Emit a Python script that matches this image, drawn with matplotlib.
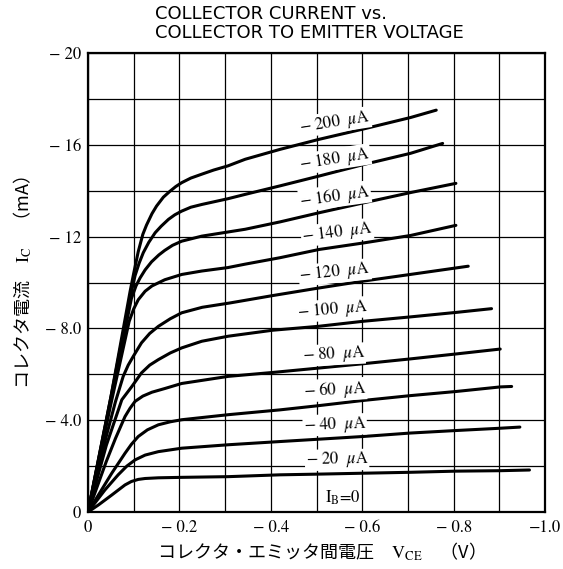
import matplotlib
matplotlib.use("Agg")
import matplotlib.pyplot as plt

plt.rcParams["font.family"] = ["Noto Sans CJK JP", "DejaVu Sans"]
plt.rcParams["mathtext.fontset"] = "stix"

# PNP transistor: values are magnitudes of -VCE (V) and -IC (mA)
vce_20 = [0, 0.023, 0.052, 0.081, 0.095, 0.110, 0.125, 0.154, 0.205, 0.307, 0.420, 0.503, 0.602, 0.705, 0.805, 0.902, 0.966]
ic_20 = [0, 0.31, 0.74, 1.18, 1.33, 1.42, 1.46, 1.49, 1.51, 1.54, 1.62, 1.65, 1.69, 1.73, 1.78, 1.80, 1.83]

vce_40 = [0, 0.037, 0.066, 0.085, 0.103, 0.125, 0.154, 0.205, 0.307, 0.420, 0.503, 0.602, 0.705, 0.805, 0.902, 0.945]
ic_40 = [0, 0.96, 1.62, 2.00, 2.27, 2.48, 2.63, 2.78, 2.93, 3.07, 3.17, 3.29, 3.44, 3.55, 3.65, 3.70]

vce_60 = [0, 0.052, 0.081, 0.095, 0.110, 0.130, 0.154, 0.180, 0.205, 0.307, 0.420, 0.503, 0.602, 0.705, 0.805, 0.902, 0.927]
ic_60 = [0, 1.69, 2.56, 2.95, 3.29, 3.58, 3.80, 3.93, 4.02, 4.24, 4.45, 4.63, 4.86, 5.07, 5.25, 5.45, 5.47]

vce_80 = [0, 0.040, 0.060, 0.081, 0.092, 0.103, 0.120, 0.140, 0.168, 0.205, 0.307, 0.404, 0.504, 0.602, 0.705, 0.807, 0.902]
ic_80 = [0, 2.20, 3.20, 4.16, 4.52, 4.82, 5.05, 5.22, 5.38, 5.60, 5.91, 6.08, 6.27, 6.46, 6.67, 6.89, 7.10]

vce_100 = [0, 0.040, 0.074, 0.096, 0.117, 0.135, 0.154, 0.180, 0.205, 0.249, 0.307, 0.404, 0.504, 0.602, 0.705, 0.807, 0.883]
ic_100 = [0, 2.90, 4.89, 5.47, 6.06, 6.40, 6.64, 6.93, 7.15, 7.44, 7.66, 7.92, 8.09, 8.31, 8.50, 8.70, 8.86]

vce_120 = [0, 0.040, 0.060, 0.077, 0.088, 0.099, 0.117, 0.135, 0.154, 0.180, 0.205, 0.250, 0.311, 0.404, 0.502, 0.602, 0.705, 0.832]
ic_120 = [0, 3.30, 4.80, 5.91, 6.40, 6.78, 7.37, 7.78, 8.09, 8.42, 8.68, 8.92, 9.11, 9.43, 9.75, 10.06, 10.35, 10.71]

vce_140 = [0, 0.050, 0.090, 0.100, 0.110, 0.125, 0.140, 0.168, 0.205, 0.249, 0.306, 0.344, 0.420, 0.506, 0.605, 0.706, 0.805]
ic_140 = [0, 4.70, 8.30, 8.85, 9.25, 9.62, 9.85, 10.12, 10.35, 10.50, 10.65, 10.80, 11.08, 11.44, 11.73, 12.05, 12.49]

vce_160 = [0, 0.050, 0.095, 0.105, 0.114, 0.125, 0.139, 0.155, 0.168, 0.185, 0.205, 0.249, 0.306, 0.344, 0.420, 0.506, 0.605, 0.706, 0.805]
ic_160 = [0, 4.90, 9.30, 9.85, 10.20, 10.55, 10.90, 11.20, 11.40, 11.62, 11.80, 12.02, 12.20, 12.32, 12.64, 13.04, 13.48, 13.92, 14.32]

vce_180 = [0, 0.050, 0.095, 0.103, 0.112, 0.121, 0.133, 0.147, 0.160, 0.176, 0.190, 0.205, 0.225, 0.249, 0.306, 0.344, 0.420, 0.506, 0.605, 0.706, 0.776]
ic_180 = [0, 5.00, 9.60, 10.30, 10.85, 11.30, 11.75, 12.17, 12.45, 12.75, 12.95, 13.11, 13.28, 13.40, 13.65, 13.84, 14.21, 14.64, 15.15, 15.63, 16.06]

vce_200 = [0, 0.050, 0.092, 0.100, 0.110, 0.120, 0.128, 0.140, 0.150, 0.165, 0.179, 0.192, 0.205, 0.225, 0.249, 0.275, 0.306, 0.344, 0.420, 0.506, 0.605, 0.706, 0.762]
ic_200 = [0, 5.00, 9.60, 10.40, 11.35, 12.10, 12.50, 13.00, 13.33, 13.72, 13.97, 14.18, 14.35, 14.55, 14.72, 14.90, 15.08, 15.37, 15.80, 16.24, 16.70, 17.19, 17.51]

curves = [(vce_20, ic_20), (vce_40, ic_40), (vce_60, ic_60), (vce_80, ic_80),
          (vce_100, ic_100), (vce_120, ic_120), (vce_140, ic_140),
          (vce_160, ic_160), (vce_180, ic_180), (vce_200, ic_200)]

# curve labels and where they sit
label_texts = ["$-$ 20  $\\mu$A", "$-$ 40  $\\mu$A", "$-$ 60  $\\mu$A", "$-$ 80  $\\mu$A",
               "$-$ 100  $\\mu$A", "$-$ 120  $\\mu$A", "$-$ 140  $\\mu$A",
               "$-$ 160  $\\mu$A", "$-$ 180  $\\mu$A", "$-$ 200  $\\mu$A"]
label_x = [0.545, 0.540, 0.540, 0.537, 0.536, 0.540, 0.545, 0.540, 0.540, 0.540]
label_y = [2.27, 3.80, 5.33, 6.86, 8.82, 10.44, 12.18, 13.76, 15.37, 16.99]
label_rot = [1, 2, 3, 3, 5, 6, 7, 8, 9, 9]

x_ticks = [0, 0.2, 0.4, 0.6, 0.8, 1.0]
x_ticklabels = ["0", "\u2212 0.2", "\u2212 0.4", "\u2212 0.6", "\u2212 0.8", "\u22121.0"]
y_ticks = [0, 4, 8, 12, 16, 20]
y_ticklabels = ["0", "\u2212 4.0", "\u2212 8.0", "\u2212 12", "\u2212 16", "\u2212 20"]

fig = plt.figure(figsize=(5.63, 5.69), dpi=100)
ax = fig.add_axes([88 / 563, 57 / 569, 457 / 563, 459 / 569])

for v, i in curves:
    ax.plot(v, i, color="black", lw=2.2, solid_capstyle="round", solid_joinstyle="round", zorder=3)

for t, x, y, r in zip(label_texts, label_x, label_y, label_rot):
    ax.text(x, y, t, ha="center", va="center", rotation=r, fontsize=12,
            family="STIXGeneral", zorder=4,
            bbox=dict(facecolor="white", edgecolor="none", pad=0.5))
ax.text(0.558, 0.61, "$\\mathrm{I_B}$=0", ha="center", va="center", fontsize=12,
        family="STIXGeneral", zorder=4,
        bbox=dict(facecolor="white", edgecolor="none", pad=0.5))

ax.set_xlim(0, 1.0)
ax.set_ylim(0, 20)
ax.set_xticks(x_ticks)
ax.set_xticklabels(x_ticklabels, family="STIXGeneral", fontsize=12)
ax.set_yticks(y_ticks)
ax.set_yticklabels(y_ticklabels, family="STIXGeneral", fontsize=12)
ax.set_xticks([k / 10 for k in range(11)], minor=True)
ax.set_yticks(list(range(0, 21, 2)), minor=True)
ax.tick_params(which="both", length=0)
ax.tick_params(axis="x", pad=6)
ax.tick_params(axis="y", pad=5)
ax.grid(which="both", color="black", lw=0.9, zorder=1)
ax.set_axisbelow(True)
for s in ax.spines.values():
    s.set_linewidth(1.6)

ax.set_xlabel("コレクタ・エミッタ間電圧　$\\mathrm{V_{CE}}$　（V）", fontsize=13, labelpad=3)
ax.set_ylabel("コレクタ電流　$\\mathrm{I_C}$　（mA）", fontsize=13, labelpad=8)

fig.text(155 / 563, 1 - 5 / 569, "COLLECTOR CURRENT vs.\nCOLLECTOR TO EMITTER VOLTAGE",
         ha="left", va="top", fontsize=13, family="DejaVu Sans", linespacing=1.05)

fig.savefig("out.png", dpi=100)
